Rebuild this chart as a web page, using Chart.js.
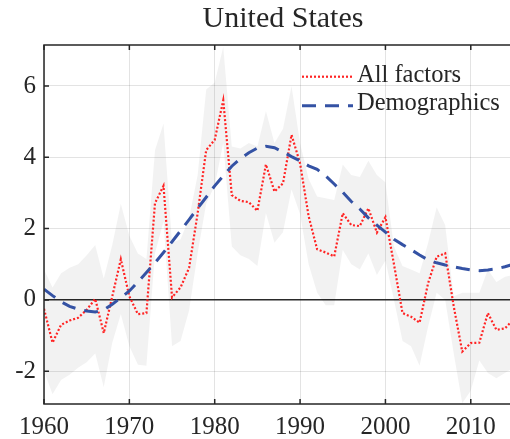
<!DOCTYPE html>
<html><head><meta charset="utf-8">
<script src="https://cdn.jsdelivr.net/npm/chart.js@4.4.1/dist/chart.umd.min.js"></script>
<style>
html,body{margin:0;padding:0;overflow:hidden;background:#fff;}
#wrap{position:relative;width:565px;height:439px;}
</style></head><body>
<div id="wrap"><canvas id="c"></canvas></div>
<script>
const years = [1960,1961,1962,1963,1964,1965,1966,1967,1968,1969,
  1970,1971,1972,1973,1974,1975,1976,1977,1978,1979,
  1980,1981,1982,1983,1984,1985,1986,1987,1988,1989,
  1990,1991,1992,1993,1994,1995,1996,1997,1998,1999,
  2000,2001,2002,2003,2004,2005,2006,2007,2008,2009,
  2010,2011,2012,2013,2014,2015];
const allFactors = [-0.25,-1.2,-0.7,-0.58,-0.5,-0.28,0.03,-0.93,0.1,1.14,
  0.1,-0.4,-0.37,2.71,3.2,0.07,0.35,0.9,2.43,4.2,
  4.49,5.6,2.94,2.78,2.74,2.5,3.8,3.04,3.27,4.63,
  3.83,2.35,1.42,1.33,1.22,2.43,2.1,2.07,2.57,1.89,
  2.32,1.0,-0.37,-0.47,-0.64,0.47,1.21,1.31,-0.18,-1.45,
  -1.21,-1.2,-0.37,-0.84,-0.8,-0.55];
const demographics = [0.3,0.12,-0.05,-0.18,-0.26,-0.31,-0.34,-0.28,-0.12,0.06,
  0.25,0.5,0.77,1.04,1.33,1.63,1.94,2.25,2.57,2.88,
  3.2,3.48,3.75,3.96,4.13,4.26,4.31,4.27,4.15,4.02,
  3.9,3.76,3.66,3.48,3.25,3.02,2.76,2.55,2.3,2.1,
  1.9,1.7,1.55,1.41,1.26,1.12,1.04,0.98,0.93,0.88,
  0.84,0.82,0.84,0.87,0.93,1.0];
const bandUpper = [0.85,0.35,0.75,0.9,1.0,1.25,1.54,0.6,1.55,2.7,
  1.8,1.3,1.15,4.2,4.95,1.6,1.7,2.3,3.5,5.9,
  6.1,7.1,4.3,4.25,4.4,4.3,5.3,4.4,4.8,6.0,
  4.4,3.4,2.9,2.85,2.8,3.8,3.5,3.45,3.9,3.5,
  3.3,1.5,0.95,0.85,0.75,1.6,2.6,2.1,0.1,0.2,
  0.2,0.2,0.85,0.5,0.65,0.7];
const bandLower = [-2.0,-2.65,-2.25,-2.1,-1.9,-1.75,-1.5,-2.45,-1.2,-0.4,
  -1.3,-1.82,-1.85,1.3,2.2,-1.3,-1.15,-0.3,1.3,2.7,
  3.2,4.4,1.5,1.25,1.15,0.95,2.43,1.6,1.9,3.1,
  2.4,1.0,0.2,-0.15,-0.15,1.4,1.0,0.85,1.3,0.7,
  1.1,0.0,-1.15,-1.3,-1.85,-0.75,0.2,0.0,-1.5,-2.9,
  -2.55,-1.7,-2.05,-2.2,-2.05,-1.9];
const xTickValues = [1960,1970,1980,1990,2000,2010];
const yTickValues = [-2,0,2,4,6];
const titleText = 'United States';
const legendLabels = ['All factors','Demographics'];

const pts = arr => years.map((yr,i)=>({x:yr,y:arr[i]}));
const SERIF = '"Liberation Serif", "Times New Roman", serif';
const AXIS = '#262626';

const framePlugin = {
  id:'frame',
  afterDatasetsDraw(chart){
    const {ctx, chartArea:a, scales:{x,y}} = chart;
    ctx.save();
    ctx.strokeStyle = AXIS; ctx.lineWidth = 1.5; ctx.setLineDash([]);
    ctx.strokeRect(a.left, a.top, a.right-a.left, a.bottom-a.top);
    const L = 5;
    ctx.beginPath();
    x.ticks.forEach(t=>{const px=x.getPixelForValue(t.value);
      ctx.moveTo(px,a.bottom); ctx.lineTo(px,a.bottom-L);
      ctx.moveTo(px,a.top); ctx.lineTo(px,a.top+L);});
    y.ticks.forEach(t=>{const py=y.getPixelForValue(t.value);
      ctx.moveTo(a.left,py); ctx.lineTo(a.left+L,py);
      ctx.moveTo(a.right,py); ctx.lineTo(a.right-L,py);});
    ctx.stroke();
    // legend (inside axes, top right)
    const rows = [{line:a.top+31.7, text:a.top+30.2},{line:a.top+60.7, text:a.top+58.8}];
    const x0 = a.left+258, x1 = a.left+309, tx = a.left+313;
    ctx.font = '24.5px ' + SERIF;
    ctx.textAlign = 'left'; ctx.textBaseline = 'middle';
    legendLabels.forEach((lab,i)=>{
      const ds = chart.data.datasets.find(d=>d.label===lab);
      ctx.beginPath();
      ctx.strokeStyle = ds.borderColor; ctx.lineWidth = ds.borderWidth;
      ctx.setLineDash(ds.borderDash||[]);
      ctx.moveTo(x0, rows[i].line); ctx.lineTo(x1, rows[i].line);
      ctx.stroke();
      ctx.setLineDash([]);
      ctx.fillStyle = AXIS;
      ctx.fillText(lab, tx, rows[i].text);
    });
    ctx.restore();
  }
};

new Chart(document.getElementById('c'), {
  type:'line',
  data:{datasets:[
    {label:'All factors', data:pts(allFactors), borderColor:'#ff2424', borderWidth:2.2, borderDash:[2,2],
     pointRadius:0, fill:false, order:1, tension:0},
    {label:'Demographics', data:pts(demographics), borderColor:'#3452a4', borderWidth:3, borderDash:[14,9],
     pointRadius:0, fill:false, order:0, tension:0},
    {label:'upper', data:pts(bandUpper), borderWidth:0, borderColor:'rgba(0,0,0,0)',
     backgroundColor:'rgba(0,0,0,0.052)', pointRadius:0, fill:'+1', order:2},
    {label:'lower', data:pts(bandLower), borderWidth:0, borderColor:'rgba(0,0,0,0)',
     pointRadius:0, fill:false, order:3}
  ]},
  options:{
    responsive:true, maintainAspectRatio:false, animation:false,
    layout:{padding:{left:0,right:43,top:0,bottom:0}},
    plugins:{
      legend:{display:false}, tooltip:{enabled:false},
      title:{display:true, text:titleText, color:AXIS, fullSize:false,
        font:{family:SERIF, size:30, weight:'normal', lineHeight:1.2},
        padding:{top:1, bottom:8}}
    },
    scales:{
      x:{type:'linear', min:1960, max:2016,
        afterBuildTicks:s=>{s.ticks = xTickValues.map(v=>({value:v}));},
        afterFit:s=>{s.height = 35;},
        grid:{color:'rgba(0,0,0,0.11)', lineWidth:1, drawTicks:false},
        border:{display:false},
        ticks:{color:AXIS, font:{family:SERIF, size:25}, padding:8,
          callback:v=>String(v), maxRotation:0, autoSkip:false}},
      y:{type:'linear', min:-2.92, max:7.15,
        afterBuildTicks:s=>{s.ticks = yTickValues.map(v=>({value:v}));},
        afterFit:s=>{s.width = 44;},
        grid:{color:c=>(c.tick && c.tick.value===0)?'#2a2a2a':'rgba(0,0,0,0.11)',
              lineWidth:c=>(c.tick && c.tick.value===0)?1.6:1, drawTicks:false},
        border:{display:false},
        ticks:{color:AXIS, font:{family:SERIF, size:25}, padding:8, callback:v=>String(v)}}
    }
  },
  plugins:[framePlugin]
});
</script>
</body></html>
